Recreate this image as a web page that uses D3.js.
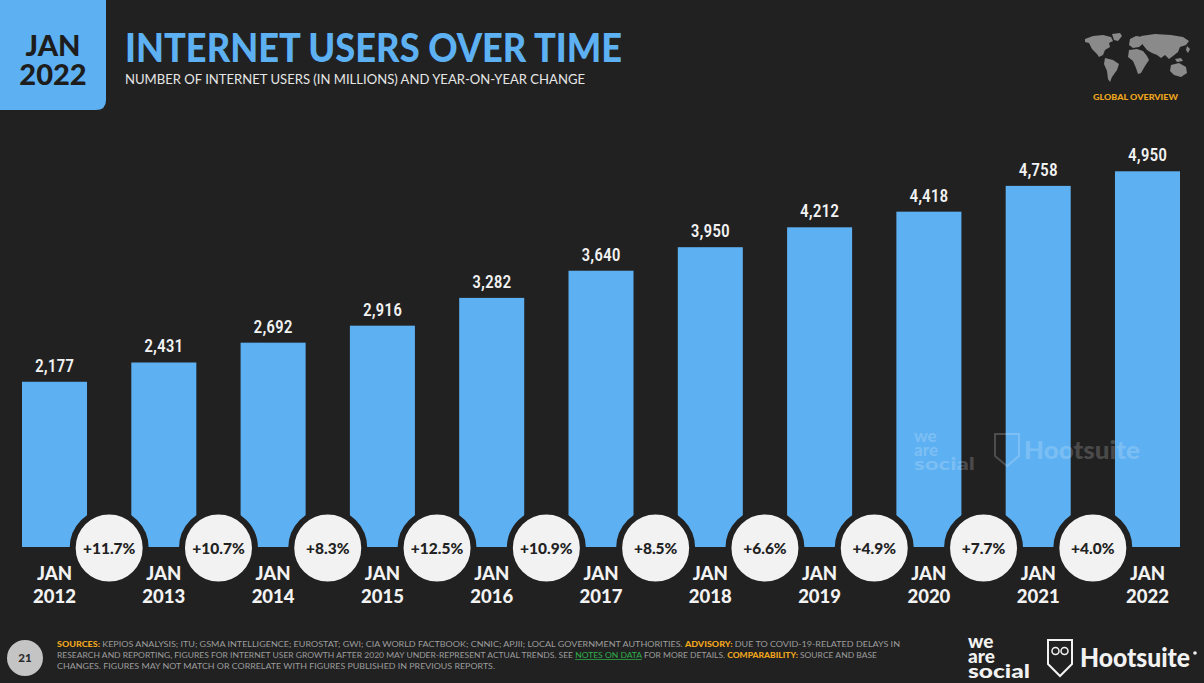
<!DOCTYPE html>
<html>
<head>
<meta charset="utf-8">
<script src="https://cdn.jsdelivr.net/npm/d3@7"></script>
<style>
html,body{margin:0;padding:0;background:#212121;}
svg{display:block;}
</style>
</head>
<body>
<svg id="chart" width="1204" height="683"></svg>
<script>
// ---- data ----
const years = ["2012","2013","2014","2015","2016","2017","2018","2019","2020","2021","2022"];
const users = [2177,2431,2692,2916,3282,3640,3950,4212,4418,4758,4950];
const changes = ["+11.7%","+10.7%","+8.3%","+12.5%","+10.9%","+8.5%","+6.6%","+4.9%","+7.7%","+4.0%"];
const monthLabel = "JAN";

const W = 1204, H = 683;
const BG = "#212121", BLUE = "#5db0f2", ORANGE = "#efa61d";
const svg = d3.select("#chart");
svg.append("rect").attr("width",W).attr("height",H).attr("fill",BG);

// ---- header ----
const hdr = svg.append("g");
hdr.append("path")
  .attr("d","M0,0 H106 V100 Q106,110 96,110 H0 Z")
  .attr("fill",BLUE);
hdr.append("text").attr("x",53).attr("y",56).attr("text-anchor","middle")
  .attr("font-family","Lato, 'Open Sans', sans-serif").attr("font-weight",900)
  .attr("font-size",29).attr("fill","#1d1d1d").text("JAN");
hdr.append("text").attr("x",53).attr("y",85).attr("text-anchor","middle")
  .attr("font-family","Lato, 'Open Sans', sans-serif").attr("font-weight",900)
  .attr("font-size",29).attr("fill","#1d1d1d").text("2022");
hdr.append("text").attr("x",125).attr("y",62)
  .attr("font-family","Lato, 'Open Sans', sans-serif").attr("font-weight",900)
  .attr("font-size",40).attr("fill",BLUE)
  .attr("textLength",497).attr("lengthAdjust","spacingAndGlyphs")
  .text("INTERNET USERS OVER TIME");
hdr.append("text").attr("x",125).attr("y",84)
  .attr("font-family","Lato, 'Open Sans', sans-serif").attr("font-weight",400)
  .attr("font-size",12.5).attr("fill","#e6e6e6")
  .attr("textLength",460).attr("lengthAdjust","spacingAndGlyphs")
  .text("NUMBER OF INTERNET USERS (IN MILLIONS) AND YEAR-ON-YEAR CHANGE");

// ---- world map (decorative) ----
const map = svg.append("g").attr("transform","translate(1083,33)").attr("fill","#8a8a8a");
const shapes = [
  "M2,6 L10,3 L20,2 L28,4 L30,8 L26,10 L27,14 L22,17 L20,22 L16,24 L14,21 L9,16 L6,10 L2,9 Z",
  "M29,1 L37,0 L39,3 L35,8 L31,7 Z",
  "M22,25 L30,27 L36,31 L34,37 L29,44 L27,49 L25,46 L24,38 L21,31 Z",
  "M47,6 L53,3 L60,4 L61,10 L56,14 L50,15 L46,12 Z",
  "M46,17 L54,16 L60,18 L64,23 L66,27 L62,33 L58,40 L55,41 L53,35 L50,28 L45,24 Z",
  "M58,3 L72,1 L88,2 L100,4 L106,8 L103,12 L97,14 L95,19 L90,23 L86,26 L82,22 L78,25 L74,22 L69,20 L64,17 L60,12 Z",
  "M88,32 L96,30 L103,34 L104,40 L98,44 L91,42 L87,38 Z",
  "M92,26 L98,25 L100,28 L94,29 Z",
  "M104,13 L107,16 L105,20 L103,17 Z"
];
map.selectAll("path").data(shapes).join("path").attr("d",d=>d);
svg.append("text").attr("x",1135.5).attr("y",100).attr("text-anchor","middle")
  .attr("font-family","Lato, sans-serif").attr("font-weight",900).attr("font-size",8)
  .attr("fill",ORANGE).attr("textLength",85).attr("lengthAdjust","spacingAndGlyphs")
  .text("GLOBAL OVERVIEW");

// ---- scales ----
const x = d3.scaleBand().domain(years).range([22,1180]).paddingInner(0.405).paddingOuter(0);
const y = d3.scaleLinear().domain([0,5000]).range([547,167.5]);

// ---- bars ----
svg.append("g").selectAll("rect").data(years).join("rect")
  .attr("x",d=>x(d)).attr("width",x.bandwidth())
  .attr("y",(d,i)=>y(users[i])).attr("height",(d,i)=>y(0)-y(users[i]))
  .attr("fill",BLUE);

// value labels
svg.append("g").selectAll("text").data(years).join("text")
  .attr("x",d=>x(d)+x.bandwidth()/2).attr("y",(d,i)=>y(users[i])-10)
  .attr("text-anchor","middle")
  .attr("font-family","'Roboto Condensed','Liberation Sans Narrow','DejaVu Sans Condensed',Roboto,sans-serif")
  .attr("font-stretch","condensed").attr("font-weight",500)
  .attr("font-size",18).attr("fill","#f2f2f2")
  .attr("textLength",(d,i)=>d3.format(",")(users[i]).length*7.8)
  .attr("lengthAdjust","spacingAndGlyphs")
  .text((d,i)=>d3.format(",")(users[i]));

// ---- watermark ----
const wm = svg.append("g").attr("fill","#ffffff").attr("fill-opacity",0.2)
  .attr("font-family","Lato, 'Open Sans', sans-serif").attr("font-weight",900);
const wmt = wm.append("text").attr("font-size",17);
wmt.append("tspan").attr("x",914).attr("y",442).text("we");
wmt.append("tspan").attr("x",914).attr("y",456).text("are");
wmt.append("tspan").attr("x",914).attr("y",470).attr("textLength",61).attr("lengthAdjust","spacingAndGlyphs").text("social");
wm.append("path").attr("d","M995,434 H1019 V456 L1007,466 L995,456 Z").attr("fill","none")
  .attr("stroke","#ffffff").attr("stroke-opacity",0.2).attr("stroke-width",2);
wm.append("text").attr("x",1024).attr("y",459).attr("font-size",24)
  .attr("textLength",116).attr("lengthAdjust","spacingAndGlyphs").text("Hootsuite");

// ---- change bubbles ----
const cx = i => (x(years[i])+x(years[i+1]))/2 + x.bandwidth()/2;
const bub = svg.append("g").selectAll("g").data(changes).join("g")
  .attr("transform",(d,i)=>`translate(${cx(i)},548)`);
bub.append("circle").attr("r",36.5).attr("fill","#f2f2f2").attr("stroke",BG).attr("stroke-width",6);
bub.append("text").attr("text-anchor","middle").attr("dy","0.36em")
  .attr("font-family","Lato, 'Open Sans', sans-serif").attr("font-weight",900)
  .attr("font-size",15.5).attr("fill","#222").text(d=>d);

// ---- x axis labels ----
const xl = svg.append("g").selectAll("text").data(years).join("text")
  .attr("font-family","Lato, 'Open Sans', sans-serif").attr("font-weight",900)
  .attr("font-size",18.5).attr("fill","#f2f2f2").attr("text-anchor","middle");
xl.append("tspan").attr("x",d=>x(d)+x.bandwidth()/2).attr("y",580).text(monthLabel);
xl.append("tspan").attr("x",d=>x(d)+x.bandwidth()/2).attr("y",603).text(d=>d);

// ---- footer ----
svg.append("circle").attr("cx",25).attr("cy",658).attr("r",18).attr("fill","#c4c4c4");
svg.append("text").attr("x",25).attr("y",662).attr("text-anchor","middle")
  .attr("font-family","Lato, sans-serif").attr("font-weight",900).attr("font-size",11.5)
  .attr("fill","#2a2a2a").text("21");

const foot = svg.append("g").attr("font-family","Lato, 'Open Sans', sans-serif")
  .attr("font-size",7.6).attr("fill","#9c9c9c");
const l1 = foot.append("text").attr("x",57).attr("y",647).attr("textLength",843).attr("lengthAdjust","spacingAndGlyphs");
l1.append("tspan").attr("fill",ORANGE).attr("font-weight",900).text("SOURCES: ");
l1.append("tspan").text("KEPIOS ANALYSIS; ITU; GSMA INTELLIGENCE; EUROSTAT; GWI; CIA WORLD FACTBOOK; CNNIC; APJII; LOCAL GOVERNMENT AUTHORITIES. ");
l1.append("tspan").attr("fill",ORANGE).attr("font-weight",900).text("ADVISORY: ");
l1.append("tspan").text("DUE TO COVID-19-RELATED DELAYS IN");
const l2 = foot.append("text").attr("x",57).attr("y",658).attr("textLength",820).attr("lengthAdjust","spacingAndGlyphs");
l2.append("tspan").text("RESEARCH AND REPORTING, FIGURES FOR INTERNET USER GROWTH AFTER 2020 MAY UNDER-REPRESENT ACTUAL TRENDS. SEE ");
l2.append("tspan").attr("fill","#2fae4a").attr("text-decoration","underline").text("NOTES ON DATA");
l2.append("tspan").text(" FOR MORE DETAILS. ");
l2.append("tspan").attr("fill",ORANGE).attr("font-weight",900).text("COMPARABILITY: ");
l2.append("tspan").text("SOURCE AND BASE");
foot.append("text").attr("x",57).attr("y",669).attr("textLength",438).attr("lengthAdjust","spacingAndGlyphs")
  .text("CHANGES. FIGURES MAY NOT MATCH OR CORRELATE WITH FIGURES PUBLISHED IN PREVIOUS REPORTS.");

// logos
const logo = svg.append("g").attr("fill","#f2f2f2").attr("font-family","Lato, 'Open Sans', sans-serif").attr("font-weight",900);
const was = logo.append("text").attr("font-size",19);
was.append("tspan").attr("x",968).attr("y",648).text("we");
was.append("tspan").attr("x",968).attr("y",663).text("are");
was.append("tspan").attr("x",968).attr("y",678).attr("textLength",62).attr("lengthAdjust","spacingAndGlyphs").text("social");
logo.append("path").attr("d","M1048,640 H1072 V664 L1060,676 L1048,664 Z")
  .attr("fill","none").attr("stroke","#f2f2f2").attr("stroke-width",2);
logo.append("circle").attr("cx",1055.5).attr("cy",651).attr("r",3.5).attr("fill","none").attr("stroke","#f2f2f2").attr("stroke-width",1.5);
logo.append("circle").attr("cx",1064.5).attr("cy",651).attr("r",3.5).attr("fill","none").attr("stroke","#f2f2f2").attr("stroke-width",1.5);
logo.append("text").attr("x",1080).attr("y",667).attr("font-size",26)
  .attr("textLength",110).attr("lengthAdjust","spacingAndGlyphs").text("Hootsuite");
logo.append("circle").attr("cx",1195).attr("cy",653).attr("r",1.8);
</script>
</body>
</html>
